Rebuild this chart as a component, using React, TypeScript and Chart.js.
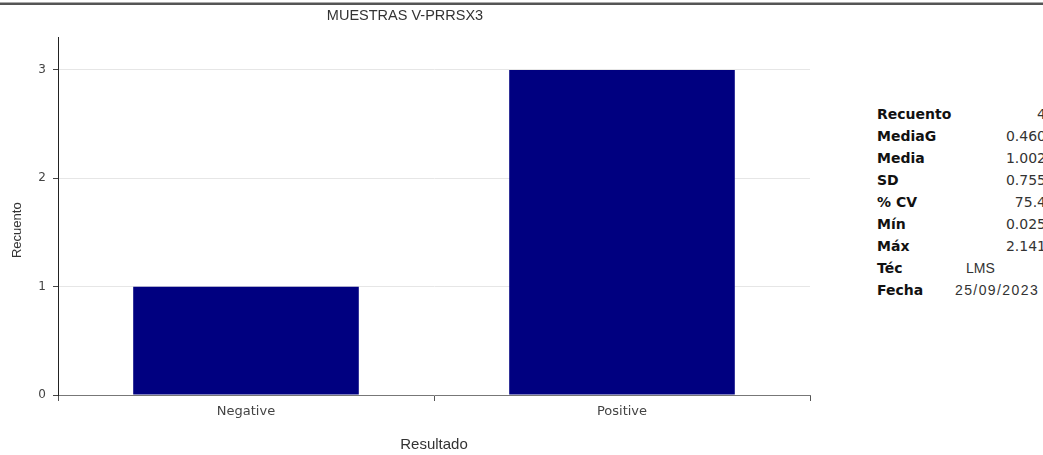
import React, { useEffect, useRef } from "react";
import { Chart, registerables } from "chart.js";

Chart.register(...registerables);

const chartTitle = "MUESTRAS V-PRRSX3";
const categories = ["Negative", "Positive"];
const counts = [1, 3];
const yAxisTitle = "Recuento";
const xAxisTitle = "Resultado";
const yMax = 3.3;

const statLabels = ["Recuento", "MediaG", "Media", "SD", "% CV", "Mín", "Máx"];
const statValues = ["4", "0.460", "1.002", "0.755", "75.4", "0.025", "2.141"];
const techLabel = "Téc";
const techValue = "LMS";
const dateLabel = "Fecha";
const dateValue = "25/09/2023";

// draws the rotated y-axis title a little below the axis centre, as in the reference
const yTitlePlugin = {
  id: "yTitleLow",
  afterDraw(chart: any) {
    const { ctx, chartArea } = chart;
    ctx.save();
    ctx.translate(17, (chartArea.top + chartArea.bottom) / 2 + 14);
    ctx.rotate(-Math.PI / 2);
    ctx.font = "13px 'Liberation Sans', Arial, sans-serif";
    ctx.fillStyle = "#333";
    ctx.textAlign = "center";
    ctx.textBaseline = "middle";
    ctx.fillText(yAxisTitle, 0, 0);
    ctx.restore();
  },
};

export default function App() {
  const canvasRef = useRef<HTMLCanvasElement | null>(null);

  useEffect(() => {
    if (!canvasRef.current) return;
    const chart = new Chart(canvasRef.current, {
      type: "bar",
      data: {
        labels: categories,
        datasets: [
          {
            data: counts,
            backgroundColor: "#000080",
            borderWidth: 0,
            barPercentage: 0.6,
            categoryPercentage: 1,
          },
        ],
      },
      plugins: [yTitlePlugin],
      options: {
        animation: false,
        responsive: false,
        maintainAspectRatio: false,
        layout: { padding: { left: 0, right: 35, top: 0, bottom: 0 } },
        plugins: {
          legend: { display: false },
          tooltip: { enabled: false },
          title: {
            display: true,
            text: chartTitle,
            color: "#333",
            font: { family: "'Liberation Sans', Arial, sans-serif", size: 14.5, weight: "normal" },
            padding: { top: 7, bottom: 13 },
          },
        },
        scales: {
          x: {
            offset: true,
            border: { display: true, color: "#777", width: 1 },
            grid: {
              offset: true,
              drawOnChartArea: false,
              drawTicks: true,
              tickLength: 6,
              tickColor: "#555",
            },
            ticks: {
              color: "#444",
              padding: 3,
              font: { family: "'DejaVu Sans', Verdana, sans-serif", size: 13 },
            },
            afterFit: (scale: any) => {
              scale.height = 60;
            },
            title: {
              display: true,
              text: xAxisTitle,
              color: "#333",
              font: { family: "'Liberation Sans', Arial, sans-serif", size: 15 },
              padding: { top: 16, bottom: 1 },
            },
          },
          y: {
            min: 0,
            max: yMax,
            border: { display: true, color: "#222", width: 1 },
            grid: {
              color: (ctx: any) => (ctx.tick && ctx.tick.value === 0 ? "rgba(0,0,0,0)" : "#e6e6e6"),
              tickColor: "#444",
              tickLength: 5,
              drawTicks: true,
            },
            ticks: {
              stepSize: 1,
              color: "#444",
              padding: 7,
              font: { family: "'DejaVu Sans', Verdana, sans-serif", size: 12 },
            },
            afterBuildTicks: (scale: any) => {
              scale.ticks = scale.ticks.filter((t: any) => Number.isInteger(t.value));
            },
            afterFit: (scale: any) => {
              scale.width = 58;
            },
            title: { display: false },
          },
        },
      },
    });
    return () => chart.destroy();
  }, []);

  const rowH = 22;
  const top0 = 103;
  const labelStyle: React.CSSProperties = {
    position: "absolute",
    left: 877,
    fontFamily: "'DejaVu Sans', Verdana, sans-serif",
    fontWeight: "bold",
    fontSize: 14,
    color: "#111",
    lineHeight: `${rowH}px`,
    whiteSpace: "nowrap",
  };
  const valueStyle: React.CSSProperties = {
    position: "absolute",
    right: 1043 - 1046,
    fontFamily: "'DejaVu Sans', Verdana, sans-serif",
    fontSize: 14,
    color: "#333",
    lineHeight: `${rowH}px`,
    whiteSpace: "nowrap",
    textAlign: "right",
  };

  return (
    <div
      style={{
        position: "absolute",
        left: 0,
        top: 0,
        width: 1043,
        height: 455,
        overflow: "hidden",
        background: "#fff",
      }}
    >
      <div style={{ position: "absolute", left: 0, top: 2, width: 1043, height: 1, background: "#aaa" }} />
      <div style={{ position: "absolute", left: 0, top: 3, width: 1043, height: 2, background: "#555" }} />
      <canvas
        ref={canvasRef}
        width={845}
        height={455}
        style={{ position: "absolute", left: 0, top: 0, width: 845, height: 455 }}
      />
      {statLabels.map((l, i) => (
        <React.Fragment key={l}>
          <div style={{ ...labelStyle, top: top0 + i * rowH }}>{l}</div>
          <div style={{ ...valueStyle, top: top0 + i * rowH }}>{statValues[i]}</div>
        </React.Fragment>
      ))}
      <div style={{ ...labelStyle, top: top0 + 7 * rowH }}>{techLabel}</div>
      <div
        style={{
          position: "absolute",
          left: 966,
          top: top0 + 7 * rowH,
          fontFamily: "'Liberation Sans', Arial, sans-serif",
          fontSize: 14,
          color: "#333",
          lineHeight: `${rowH}px`,
        }}
      >
        {techValue}
      </div>
      <div style={{ ...labelStyle, top: top0 + 8 * rowH }}>{dateLabel}</div>
      <div
        style={{
          position: "absolute",
          left: 955,
          top: top0 + 8 * rowH,
          fontFamily: "'Liberation Sans', Arial, sans-serif",
          fontSize: 14,
          letterSpacing: "1.4px",
          color: "#333",
          lineHeight: `${rowH}px`,
          whiteSpace: "nowrap",
        }}
      >
        {dateValue}
      </div>
    </div>
  );
}
